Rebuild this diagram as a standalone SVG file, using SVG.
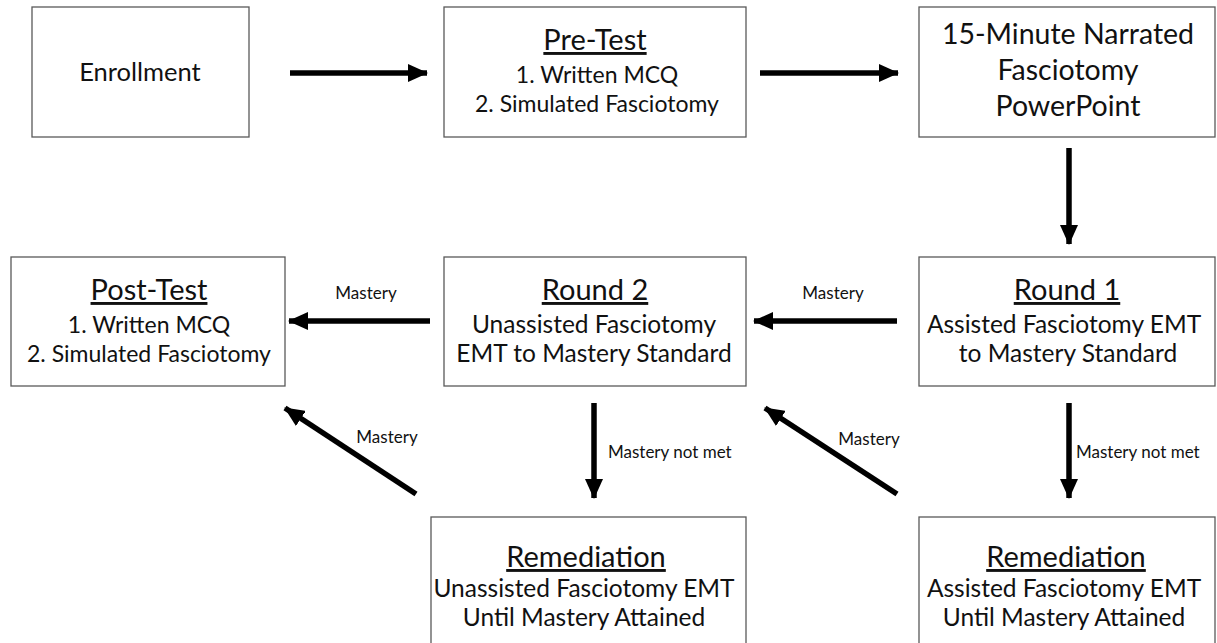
<svg xmlns="http://www.w3.org/2000/svg" width="1217" height="643" viewBox="0 0 1217 643">
<style>
.box{fill:#fff;stroke:#595959;stroke-width:1.3}
text{font-family:Lato,"Open Sans",sans-serif;fill:#111;text-anchor:middle}
.h{font-size:29px;text-decoration:underline}
.b{font-size:24.5px}
.t{font-size:23px}
.big{font-size:25.5px}
.pp{font-size:28.5px}
.s{font-size:17px;text-anchor:start}
.sm{font-size:17px}
.arr{stroke:#000;stroke-width:5.5;fill:none;marker-end:url(#ah)}
</style>
<defs>
<marker id="ah" markerUnits="userSpaceOnUse" markerWidth="20" markerHeight="18" refX="19" refY="9" orient="auto" viewBox="0 0 20 18">
<path d="M0,0 L20,9 L0,18 Z" fill="#000"/>
</marker>
</defs>
<rect width="1217" height="643" fill="#fff"/>
<g id="enrollment"><rect class="box" x="32" y="7" width="217" height="130"/><text class="big" x="140" y="81">Enrollment</text></g>
<g id="pretest"><rect class="box" x="444" y="7" width="302" height="130"/><text class="h" x="595" y="50">Pre-Test</text><text class="t" x="597" y="83">1. Written MCQ</text><text class="t" x="597" y="112">2. Simulated Fasciotomy</text></g>
<g id="powerpoint"><rect class="box" x="919" y="7" width="296" height="130"/><text class="pp" x="1068" y="44">15-Minute Narrated</text><text class="pp" x="1068" y="80">Fasciotomy</text><text class="pp" x="1068" y="116">PowerPoint</text></g>
<g id="posttest"><rect class="box" x="11" y="257" width="274" height="129"/><text class="h" x="149" y="300">Post-Test</text><text class="t" x="149" y="333">1. Written MCQ</text><text class="t" x="149" y="362">2. Simulated Fasciotomy</text></g>
<g id="round2"><rect class="box" x="444" y="257" width="302" height="129"/><text class="h" x="595" y="300">Round 2</text><text class="b" x="594" y="333">Unassisted Fasciotomy</text><text class="b" x="594" y="362">EMT to Mastery Standard</text></g>
<g id="round1"><rect class="box" x="919" y="257" width="296" height="129"/><text class="h" x="1067" y="300">Round 1</text><text class="b" x="1064" y="333">Assisted Fasciotomy EMT</text><text class="b" x="1068" y="362">to Mastery Standard</text></g>
<g id="remediation2"><rect class="box" x="431" y="517" width="315" height="140"/><text class="h" x="586" y="567">Remediation</text><text class="b" x="584" y="597">Unassisted Fasciotomy EMT</text><text class="b" x="584" y="626">Until Mastery Attained</text></g>
<g id="remediation1"><rect class="box" x="919" y="517" width="296" height="140"/><text class="h" x="1066" y="567">Remediation</text><text class="b" x="1064" y="597">Assisted Fasciotomy EMT</text><text class="b" x="1064" y="626">Until Mastery Attained</text></g>
<g id="connectors">
<line class="arr" x1="290" y1="73" x2="427" y2="73"/>
<line class="arr" x1="760" y1="73" x2="898" y2="73"/>
<line class="arr" x1="1069" y1="148" x2="1069" y2="244"/>
<line class="arr" x1="430" y1="321" x2="289" y2="321"/>
<line class="arr" x1="897" y1="321" x2="754" y2="321"/>
<line class="arr" x1="594" y1="403" x2="594" y2="498"/>
<line class="arr" x1="1069" y1="403" x2="1069" y2="498"/>
<line class="arr" x1="416" y1="494" x2="285" y2="408"/>
<line class="arr" x1="897" y1="494" x2="765" y2="408"/>
<text class="sm" x="366" y="299">Mastery</text>
<text class="sm" x="833" y="299">Mastery</text>
<text class="sm" x="387" y="443">Mastery</text>
<text class="sm" x="869" y="445">Mastery</text>
<text class="s" x="608" y="458">Mastery not met</text>
<text class="s" x="1076" y="458">Mastery not met</text>
</g>
</svg>
